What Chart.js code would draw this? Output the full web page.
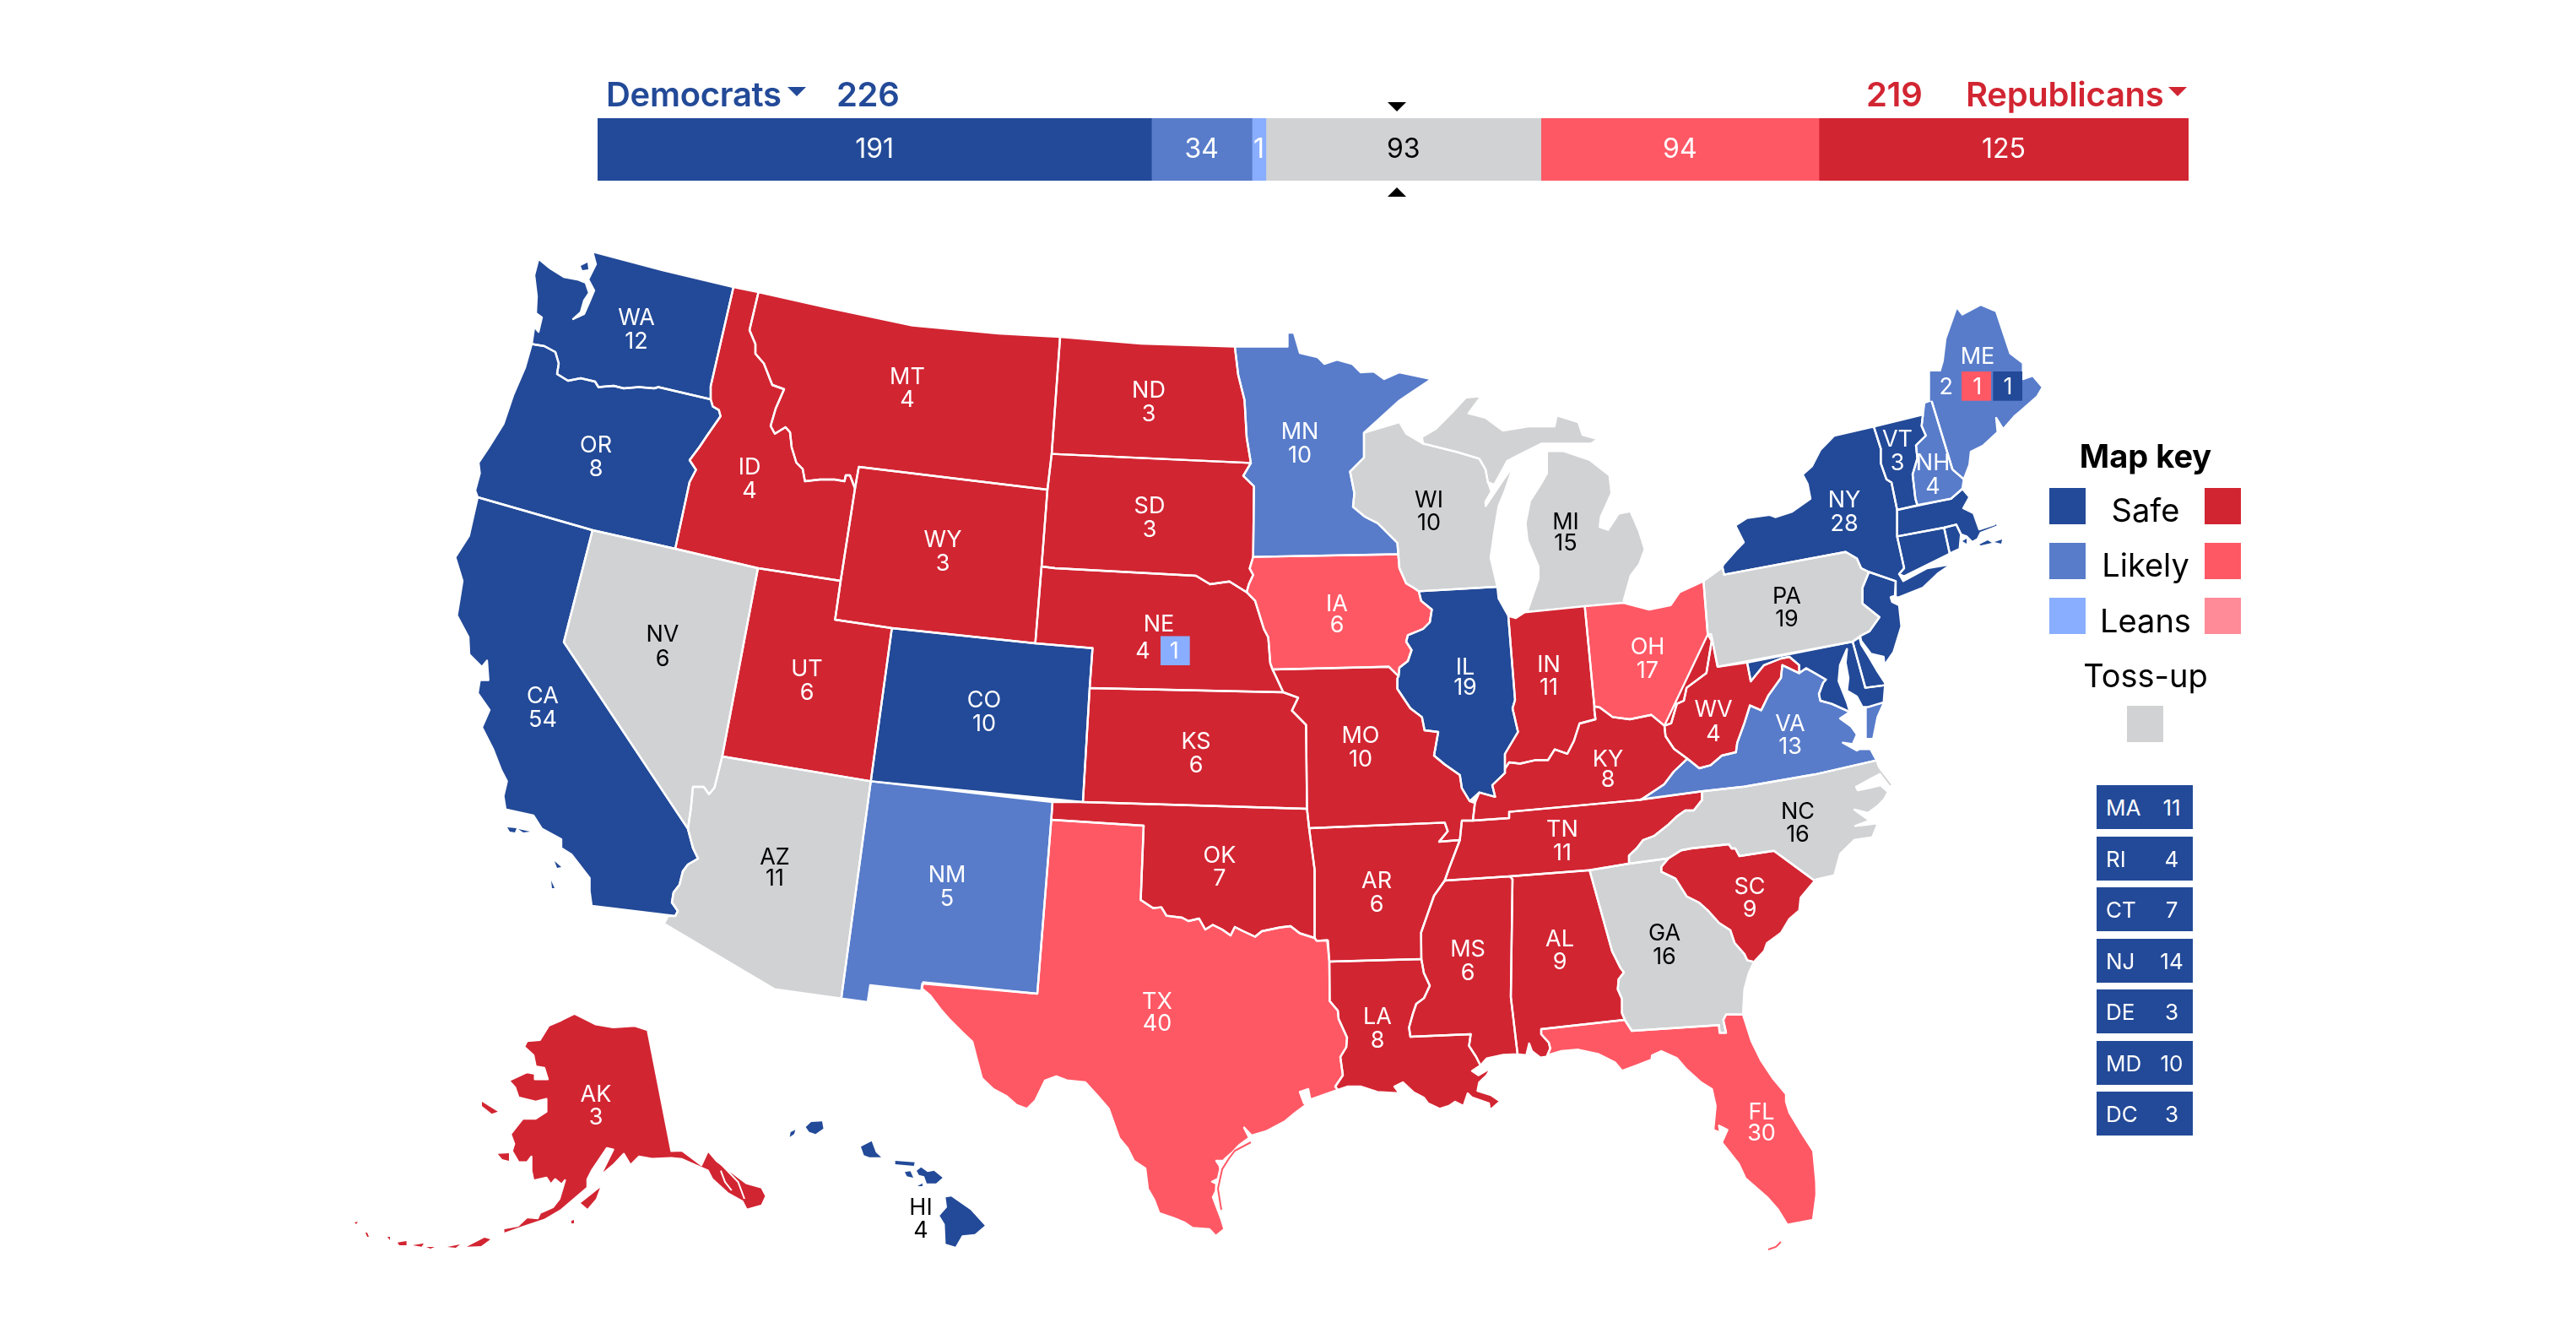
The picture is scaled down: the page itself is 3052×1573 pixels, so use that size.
<!DOCTYPE html>
<html>
<head>
<meta charset="utf-8">
<title>Electoral map</title>
<script src="https://cdn.jsdelivr.net/npm/chart.js@4"></script>
<style>
  html, body { margin: 0; background: #fff; overflow: hidden; }
  body { position: relative; width: 3052px; height: 1573px; font-family: Inter, "Noto Sans", sans-serif; }
  canvas { position: absolute; display: block; }
  .t { position: absolute; white-space: nowrap; line-height: 1; transform: translateY(-50%); }
  .c { transform: translate(-50%, -50%); }
  .hd { font-size: 40px; font-weight: 600; letter-spacing: -0.3px; }
  .dem { color: #234a98; }
  .rep { color: #d22532; }
  .key { font-size: 38px; color: #000; }
  .sw { position: absolute; width: 43px; height: 43px; }
  .tri { position: absolute; width: 0; height: 0; border-left: 11.5px solid transparent; border-right: 11.5px solid transparent; }
  .row { position: absolute; left: 2484px; width: 114px; height: 52px; background: #234a98; color: #fff; font-size: 26px; }
  .row span { position: absolute; top: 50%; transform: translateY(-50%); }
</style>
</head>
<body>
<canvas id="map" width="3052" height="1573" style="left:0;top:0"></canvas>
<canvas id="bar" width="1885" height="74" style="left:708px;top:140px"></canvas>
<div id="overlay"></div>
<script>
// Ratings colours
const SAFE_D = '#234a98', LIKELY_D = '#587cca', LEANS_D = '#8aaeff';
const TOSS = '#d1d2d4';
const LEANS_R = '#ff8b98', LIKELY_R = '#ff5865', SAFE_R = '#d22532';

// Top bar
const barRatings = ['Safe D', 'Likely D', 'Leans D', 'Toss-up', 'Likely R', 'Safe R'];
const barSeats = [191, 34, 1, 93, 94, 125];
const barColors = [SAFE_D, LIKELY_D, LEANS_D, TOSS, LIKELY_R, SAFE_R];
const barTextColors = ['#fff', '#fff', '#fff', '#000', '#fff', '#fff'];
// the 1-seat sliver is drawn wider so its label fits, the width comes off the big block
const SLIVER_EXTRA = 3.7;

// State table
const stateNames = ['WA','OR','CA','NV','ID','MT','WY','UT','CO','AZ','NM','ND','SD','NE','KS','OK','TX','MN','IA','MO','AR','LA','WI','IL','MS','MI','IN','KY','TN','AL','OH','WV','VA','NC','SC','GA','FL','PA','NY','VT','NH','ME','AK','HI'];
const stateVotes = [12,8,54,6,4,4,3,6,10,11,5,3,3,4,6,7,40,10,6,10,6,8,10,19,6,15,11,8,11,9,17,4,13,16,9,16,30,19,28,3,4,2,3,4];
const stateRatings = {
  WA: SAFE_D, OR: SAFE_D, CA: SAFE_D, CO: SAFE_D, IL: SAFE_D, NY: SAFE_D, VT: SAFE_D, HI: SAFE_D,
  MA: SAFE_D, RI: SAFE_D, CT: SAFE_D, NJ: SAFE_D, DE: SAFE_D, MD: SAFE_D,
  NM: LIKELY_D, MN: LIKELY_D, ME: LIKELY_D, NH: LIKELY_D, VA: LIKELY_D,
  NV: TOSS, AZ: TOSS, WI: TOSS, MI: TOSS, PA: TOSS, NC: TOSS, GA: TOSS,
  TX: LIKELY_R, IA: LIKELY_R, OH: LIKELY_R, FL: LIKELY_R
};

// States too small for a label on the map
const smallStates = ['MA','RI','CT','NJ','DE','MD','DC'];
const smallVotes = [11,4,7,14,3,10,3];

// Label anchors: x, first line y, second line y (reference pixels)
const labelAnchors = {
  WA:[754,377,405], OR:[706,528,556], CA:[643,825,853], NV:[785,752,781], ID:[888,554,582], MT:[1075,447,474],
  WY:[1117,640,668], UT:[956,793,821], CO:[1166,830,858], AZ:[918,1016,1041], NM:[1122,1037,1065], ND:[1361,463,491],
  SD:[1362,600,628], NE:[1373,740,772], KS:[1417,879,907], OK:[1445,1014,1041], TX:[1371,1187,1213], MN:[1540,512,540],
  IA:[1584,716,741], MO:[1612,872,900], AR:[1631,1044,1072], LA:[1632,1205,1233], WI:[1693,593,620], IL:[1736,791,815],
  MS:[1739,1125,1153], MI:[1855,619,644], IN:[1835,788,815], KY:[1905,900,924], TN:[1851,983,1011], AL:[1848,1113,1140],
  OH:[1952,767,795], WV:[2030,841,870], VA:[2121,858,885], NC:[2130,962,989], SC:[2073,1051,1078], GA:[1972,1106,1134],
  FL:[2087,1318,1343], PA:[2117,707,734], NY:[2185,593,621], VT:[2248,521,549], NH:[2290,549,577], ME:[2343,423,459],
  AK:[706,1297,1324], HI:[1091,1431,1458]
};

// Shared borders, flat x,y lists in reference pixels
const COLUMBIA = [630,407.5,645,410,658,417,662,430.5,660,443,673,451,688,448,705,452,709,458.5,727,457,739,460,757,458.5,775,460,780,458.5,842,473];
const SNAKE = [842,473,844.5,481.5,851.6,485.6,853.7,493,837,517,829,529,817,545,824.6,556.5,817,571,800,650];
const ID_MT = [898.6,346,888,391,895,407.5,895,419,905,430.5,915,456,929,461,919,484,913,504.5,918,513.7,930.7,506,936,512,938,530,943.5,548,951,555.5,953.7,570,971.5,568,989,568,1000.6,570,1002,563,1007,563,1013,578.5];
const CA_AZ = [815,981.6,821,1004.5,827,1017,815,1024,809,1032,805,1048,798,1057,796,1069,803,1079,800,1085];
const NV_AZ = [855.7,896,846.5,933,840,940.7,833.8,932,821,932,818.5,958,815,981.6];
const RED_RIVER = [1351.5,1066,1366,1075.6,1376,1074.6,1382,1084.6,1400.7,1087,1408,1091,1420.6,1088,1428,1101,1437,1095.5,1448,1101,1458,1108,1463,1098,1473,1103,1487,1109.5,1495,1103,1516.7,1098.5,1529,1097,1540,1105.5,1557.5,1111];
const TX_LA = [1575,1139,1575.4,1185.7,1585,1197,1586,1207,1596,1229,1595,1240.5,1588,1252,1591,1273.6,1582,1287,1585,1291];
const RIV_TN = [1745,972,1732,972,1729.6,995,1722,1015,1717,1028,1711.7,1043];
const RIV_AR = [1711.7,1043,1699,1061,1690,1086.6,1683.7,1104.5,1684,1136];
const RIV_LA = [1684,1136,1687,1152.6,1694,1167.5,1687,1182.4,1678,1189,1674,1200.6,1669.4,1217,1671,1228,1742.5,1225,1740.5,1238.8,1749,1252,1754,1262];
const MISS_IL = [1657,801,1655.6,803.5,1655.6,816,1671,839,1684.7,849.4,1687.8,865,1704,867,1699,895,1711.7,905.5,1729.6,918,1732,933.6,1741.3,949];
const IA_WI = [1656.6,656.5,1658,673,1666,691,1676,697,1681,700.4];
const IA_IL = [1681,700.4,1683.7,711.6,1696.4,722,1694,737,1686,745,1668,752.4,1666,760,1672.4,770,1668,783,1658,790.7,1657,801];
const MN_WI = [1616,512.6,1616,542,1599.5,558.6,1604.6,584,1603,600.4,1617,612,1632.6,620,1655.6,643,1656.6,656.5];
const ND_MN = [1463,410.6,1467,444,1474.5,474,1477,518,1482,548.4];
const SD_MN = [1482,548.4,1473,563.7,1485.7,576,1484.7,659.6];
const SD_IA = [1484.7,659.6,1480.6,673.4,1484.7,681,1479.6,692,1477,701.4];
const NE_IA = [1477,701.4,1487,711.6,1497.4,745,1502.6,755,1505,785.6,1507.7,793];
const NE_MO = [1507.7,793,1512.7,803.5,1520.4,820];
const NE_SD = [1234,671,1250,673,1417,682,1433.7,692,1456.6,688.7,1477,701.4];
const KS_MO = [1520.4,820,1538,826.4,1530.6,841.7,1547.4,858.6,1548.5,958];
const IN_KY = [1889,836.6,1889,841.7,1890.3,852,1871.4,857,1864.8,877.5,1857,892.8,1842,887.7,1834,900.4,1819,900.4,1801,904.5,1788,903,1783,910.6];
const IL_IN = [1787,729.5,1795,829,1792,839,1798.5,867,1783,893,1783,910.6];
const OH_KY = [1889,836.6,1895.4,838,1910.7,849.4,1931,852,1956.6,846.8,1972,859.6];
const OH_WV = [1972,859.6,1980,856.6,1986.7,833.7,1995,830,1998.3,814.6,2021.7,797.3,2028,759,2023.3,751.4];
const KY_WV = [1972,859.6,1973.3,872,1983.3,887,1999.3,898.7];
const KY_VA = [1999.3,898.7,1983,914,1971.7,929,1945,946.7];
const VA_WV = [2111.7,787.8,2110,803,2101.7,814.6,2095,824,2086.7,841.3,2073.3,835.6,2066.7,856.6,2058.3,879.6,2056.7,891,2040,895,2026.7,906.4,2013.3,910,1999.3,898.7];
const POTOMAC = [2191.7,843.3,2170,833.7,2156.7,830,2155,822,2160,808.8,2163.3,805,2150,797.3,2140,791.6,2131.7,797.3];
const MD_WV = [2131.7,797.3,2131.7,787.8,2120,778,2110,780,2090,787.8,2074.3,807,2070,784.7];
const TN_NC = [2016.7,937.3,2016,948,2006.7,960,1996.7,960,1986.7,967,1976.7,976.7,1960,990,1946.7,995,1939,1005,1930,1013.3,1930,1023];
const GA_SC = [1976.7,1016.7,1968.3,1026.7,1968.3,1032.7,1985,1040.7,1998.3,1061.7,2013.3,1069.3,2023.3,1078.3,2036.7,1093.3,2050,1101.7,2055,1116.7,2066.7,1130,2070,1137.3,2078,1139.3];
const AL_GA = [1883.3,1030.7,1910,1126.7,1920,1146.7,1924,1151.7,1917.7,1160,1916.7,1171.7,1921.7,1183.3,1921.7,1200,1925,1208];
const GA_FL = [1925,1208,1933.3,1221,2036.7,1214.3,2037.3,1223.3,2045,1223.3,2041.7,1208.3,2045,1201.7,2065,1201.7];
const AL_FL = [1925,1208,1826,1219,1826,1225,1835,1235,1836.7,1241.7,1833.3,1250];
const SC_NC = [1976.7,1016.7,1991.7,1007.3,2003.3,1005,2048.3,1000,2051.7,1005,2056,1005,2060.7,1014,2101.7,1007.7,2150,1043.3];
const MS_AL = [1789,1038,1792,1041.5,1790,1180.8,1798,1248.8];
const NY_VT = [2220,505.3,2228.3,531.3,2228.3,548.6,2235,567.7,2241,571.5,2247.7,604];
const VT_NH = [2278.3,491,2276.7,504.6,2281.7,516,2270,527.5,2271.7,542.8,2266,562,2269.3,590.7,2271.7,598.3];
const PA_NJ = [2214.3,677.5,2206.7,696,2206.7,715,2226.7,731,2215,747.6,2204,753.3];
const PA_NY = [2042.7,680.6,2186.7,653.8,2200,661.5,2205,673,2214.3,677.5];
const NH_ME = [2288.3,474,2313.3,556.2,2326.7,567.7];
const NC_VA = [2223.3,900.7,2150,917.3,2066.7,931.7,2016.7,937.3];

function rev(a) {
  const out = [];
  for (let i = a.length - 2; i >= 0; i -= 2) out.push(a[i], a[i + 1]);
  return out;
}

// Each state is a list of rings, mainland first
const stateShapes = {
  WA: [[702,298,785,320,869,340,842,457.5,...rev(COLUMBIA),633,387,638,393,642,376,635,371,636,351,633,326,638,306.5,652,318,668,328,684,331,694,335,698,347,692,356,688,370,679,378,692,372,699,356,704,344,697,331,706,313],
       [688,315,696,311,697,319,690,320]],
  OR: [[...COLUMBIA,...SNAKE,702,628,566,589,563,581,568.5,560.6,567,548,579,530,596.5,502,608,468,622,435.6]],
  CA: [[566,589,702,628,668,760.6,...CA_AZ,701,1073,698.6,1055.5,698.6,1040,677,1012,665,1004.5,665,994,642,981.6,632,966,599,958.6,596.5,943,600.6,925.4,594,912.6,584,887,571,861.6,580,841,566,821,568.5,805.5,578.7,805.5,577,782.5,571,790,556,775,555,754.5,541.4,729,548,688,539.4,660,555.7,634.6,562,606.5],
       [601,980,612,981,610,986,604,985],[614,982,628,985,620,986],[657,1020,665,1027,660,1028],[653,1043,657,1052,654,1052]],
  NV: [[702,628,800,650,898,673,...NV_AZ,668,760.6]],
  ID: [[869,340,...ID_MT,996,688,898,673,...rev(SNAKE),842,457.5]],
  MT: [[898.6,346,979,364,1081,385.6,1183,395,1256,399,1246,537.6,1241,580,1017.5,553,...rev(ID_MT)]],
  WY: [[1017.5,553,1241,580,1234,671,1226.6,762,1056.7,744,989.4,734,996,688,1013,578.5]],
  UT: [[898,673,996,688,989.4,734,1056.7,744,1031.7,925.4,855.7,896]],
  CO: [[1056.7,744,1226.6,762,1294.4,767.8,1291,815,1283,950,1031.7,925.4]],
  AZ: [[855.7,896,1031.7,925.4,996.7,1182.7,918,1171.7,786.7,1094,791.7,1085,...rev(CA_AZ),...rev(NV_AZ)]],
  NM: [[1031.7,925.4,1247,950,1245.5,971,1229,1177,1092.7,1165,1091.7,1171.7,1093.3,1174,1031,1167,1028,1187,996.7,1182.7]],
  ND: [[1256,399,1352,407,...ND_MN,1246,537.6]],
  SD: [[1246,537.6,...SD_MN,...SD_IA,...rev(NE_SD),1241,580]],
  NE: [[...NE_SD,...NE_IA,...NE_MO,1291,815,1294.4,767.8,1226.6,762]],
  KS: [[1291,815,...KS_MO,1283,950]],
  OK: [[1247,950,1283,950,1548.5,958,1551,981,1557.6,1030.5,...rev(RED_RIVER),1355,978,1245.5,971]],
  TX: [[1245.5,971,1355,978,...RED_RIVER,1560,1114.4,1572.4,1113.8,1573.4,1114,...TX_LA,1552.5,1302.5,1550,1290,1540,1293.5,1545,1306.8,1547.5,1308.5,1535,1317.7,1522.6,1328,1500,1340,1483,1345,1474,1335.6,1480,1347.6,1468,1356.5,1459,1366,1451,1373,1449,1375,1441,1375,1445,1381,1445.5,1385,1443,1396,1436,1399.7,1441,1402,1440.5,1411,1437,1418,1447,1444.4,1450.5,1456,1440.5,1464,1433,1456,1413,1454.4,1403,1447.8,1391,1442.8,1373.4,1437,1367.4,1421,1360,1408,1357,1384,1343.5,1375,1336,1360,1326,1348,1313.7,1313.4,1301,1298.5,1286,1282,1264,1279.6,1251.5,1275,1238,1280,1226.6,1303.5,1216.7,1313.4,1204,1308.5,1192,1298,1177,1290,1163.4,1277,1158.5,1258.7,1152,1233.8,1139.6,1222,1124.6,1207,1114.7,1195.7,1102,1179,1092.3,1170.8,1093.8,1163.5,1229,1177]],
  MN: [[1463,410.6,1525.5,410.6,1525.5,393.8,1533,394,1540,418,1561,423,1569,431,1584,426,1602,431,1612,441,1627.6,440,1640,449,1658,441,1696,449,1673.5,464,1658,474.4,1617,511.6,...MN_WI,...rev(SD_MN),...rev(ND_MN)]],
  IA: [[1484.7,659.6,...IA_WI,...IA_IL,1645.4,789.7,1507.7,793,...rev(NE_IA),...rev(SD_IA)]],
  MO: [[1507.7,793,1645.4,789.7,...MISS_IL,1747.4,951.4,...RIV_TN.slice(0,6),1705,997,1715.3,984.6,1711.7,974.4,1551,981,1548.5,958,...rev(KS_MO),...rev(NE_MO)]],
  AR: [[1551,981,1711.7,974.4,1715.3,984.6,1705,997,...RIV_TN.slice(4),...RIV_AR,1575,1139,1572.4,1113.8,1560,1114.4,1557.5,1111,1557.6,1030.5]],
  LA: [[1575,1139,...RIV_LA,1744,1268.6,1751.5,1273.6,1766.4,1265,1761.4,1273.6,1752.5,1282,1750.5,1292,1766.4,1297,1777.4,1304.5,1765.4,1315,1764,1306.8,1744,1300,1739,1295,1734,1310,1724,1305,1716.7,1310,1705.7,1313.4,1691.8,1306.8,1686.8,1300,1674.4,1293.5,1662,1282,1652,1287,1658,1295,1632,1293.5,1612,1287,1597,1287,...rev(TX_LA)]],
  MS: [[...RIV_AR,...RIV_LA,1761.4,1253.7,1781,1249.4,...rev(MS_AL)]],
  TN: [[1745,972,1788,969,1788,961.6,1944,947.4,2016.7,937.3,...TN_NC,1883.3,1030.7,1789,1038,...rev(RIV_TN)]],
  AL: [[1789,1038,1883.3,1030.7,...AL_GA,...AL_FL,1831.7,1251.7,1825,1252.7,1815,1245,1811.7,1236,1808.3,1250,1798,1248.8,...rev(MS_AL)]],
  GA: [[1883.3,1030.7,1930,1023,...GA_SC,2071.7,1153.3,2066.7,1171.7,2065,1201.7,...rev(GA_FL),...rev(AL_GA)]],
  FL: [[...GA_FL,2075,1233,2086.7,1256.7,2100,1276.7,2116.7,1296.7,2116,1305,2120,1318,2133.3,1340,2148.3,1363.3,2151.7,1400,2152,1415,2148,1445,2117.6,1450.6,2106,1432,2094.6,1419,2068,1395.7,2060,1378.5,2040,1353.3,2046.7,1338.3,2036.7,1333.3,2038,1341.7,2030,1338.3,2032.7,1310,2028.3,1290,2015,1281.7,1998.3,1266.7,1986.7,1253.3,1968.3,1245,1957.3,1250,1956.7,1255,1940,1261.7,1921.7,1268.3,1913.3,1258.3,1893.3,1248.3,1870,1243.3,1850,1245,...rev(AL_FL)]],
  SC: [[...SC_NC,2133.3,1063.3,2131.7,1078.3,2120,1088.3,2110,1105,2093.3,1117.3,2090,1126.7,2078,1139.3,...rev(GA_SC)]],
  NC: [[2223.3,900.7,2229,916,2219,921,2199,932,2201,936,2216,933,2228,930,2237,938,2232,947,2224,955,2213,963,2197,959,2215,972,2198,978.3,2211.7,976.7,2225,975,2218.3,991.7,2196.7,995,2180,1011.7,2173.3,1036.7,2151.7,1041.7,...rev(SC_NC),1930,1023,...rev(TN_NC),...rev(NC_VA)]],
  VA: [[2223.3,900.7,2216,887.3,2203.3,887.3,2200,889,2183.3,879.6,2195,881.5,2200,870,2193.3,860.5,2180,851,...POTOMAC,...VA_WV,...KY_VA,...rev(NC_VA)],
       [2230,833.7,2211.7,837.5,2211.7,873.9,2218.3,873.9,2223.3,849]],
  WV: [[2023.3,751.4,2027.3,751.4,2035,789.7,...rev(MD_WV),...VA_WV,...rev(KY_WV),...rev(OH_WV)]],
  OH: [[1877.6,718,1923.5,714,1954,722,1979.6,716.7,1990,701.4,2018.3,688.3,2023.3,751.4,...rev(OH_WV),...rev(OH_KY)]],
  IN: [[1787,729.5,1796,732,1806,725.4,1877.6,718,1889,836.6,...IN_KY,...rev(IL_IN)]],
  IL: [[1681,700.4,1774,695,1775.5,709,1787,729.5,...IL_IN,1783,915.7,1768,930,1771.4,943.8,1752.6,938.7,...rev(MISS_IL),...rev(IA_IL)]],
  KY: [[1747.4,951.4,1752.6,938.7,1771.4,943.8,1768,930,1783,915.7,...rev(IN_KY),...OH_KY,...KY_WV,...KY_VA,1944,947.4,1788,961.6,1788,969,1745,972]],
  WI: [[1616,512.6,1658,500,1666,513.7,1686,525.4,1727,535.6,1752.6,543.3,1760,556,1762.8,571,1767,582,1760,594,1760.2,599.4,1780.6,569,1793.4,551,1783,581.5,1775.5,599.4,1770.4,630,1766,660.6,1774,695,1681,700.4,...rev(IA_WI),...rev(MN_WI)]],
  MI: [[1684.7,517.7,1701.5,507.6,1719.4,489.7,1737,470.8,1755,469.3,1739.8,489.7,1760,494.8,1780.6,510,1811,505,1841.8,505,1844.4,492,1870,500,1875,515,1893,520,1885,525.4,1826.6,525.4,1801,538,1785.7,546,1770.4,574,1762.8,571,1760,556,1752.6,543.3,1727,535.6,1686,525.4],
       [1834,535.6,1852,535.6,1882.7,545.8,1905.7,563.7,1908,584,1895.4,612,1894,625,1905.7,629,1918.4,609.6,1931,607,1941,630,1947.4,650.4,1941,668,1931,681,1922.4,711.6,1923.5,714,1877.6,718,1811,723.4,1824,686,1824,670.8,1811,640,1808.7,620,1813.8,594,1826.6,574,1834,561]],
  PA: [[2018.3,688.3,2040.7,672,...PA_NY,...PA_NJ,2195,760,2035,789.7,2027.3,751.4,2023.3,751.4]],
  NY: [[2041.7,669,2056.7,652,2066,642.3,2056,622.4,2070,613.6,2096.7,609.8,2103.3,612.5,2123.3,606,2145,590.7,2141.7,573.4,2135.7,562,2146.7,552.4,2156.7,533,2173.3,516,...NY_VT,2247.7,635.4,2256,673,2250,680,2255,688.3,2283.3,673,2311.7,668.4,2296.7,678.7,2278.3,696,2250,707.4,2246,707.4,2246,688.3,...rev(PA_NY),2040.7,672]],
  NJ: [[2214.3,677.5,2246,688.3,2245,705.5,2240,707.4,2241.7,713,2250,717,2252.7,741.8,2243.3,772.5,2232.7,787.8,2231.7,778,2216.7,774.4,2205,759,...rev(PA_NJ)]],
  VT: [[2220,505.3,2278.3,491,...VT_NH,2247.7,604,...rev(NY_VT)]],
  NH: [[2278.3,491,2280,477,2288.3,474,...NH_ME,2325,579,2311.7,590.7,...rev(VT_NH)]],
  ME: [[2288.3,474,2301.7,428,2305,401,2318.3,363.7,2325,372.5,2346.7,361,2365,368.7,2381.7,418.5,2396.7,430,2396.7,449,2408.3,445,2420,458.6,2413.3,470,2393.3,487.3,2386.7,493,2373.3,508.4,2365,495,2366.7,512,2350,527.5,2335,535,2333.3,550.5,2326.7,567.7,2313.3,556.2]],
  MA: [[2247.7,604,2311.7,590.7,2325,579,2333.3,588.8,2326,602,2338.3,608,2345,627,2363.3,621,2360,611,2367.3,623,2346.7,631,2343,638.5,2336.7,642,2330,635.4,2323.3,632.8,2317.7,621.3,2303.3,625,2247.7,635.4],
       [2345,645,2355,640,2360,643,2347,646],[2363,642,2372,639,2371,644]],
  CT: [[2247.7,635.4,2303.3,625,2310,655.7,2256,682.5,2250,680,2256,673]],
  RI: [[2303.3,625,2317.7,621.3,2323.3,632.8,2321.7,650,2310,655.7],[2325,641,2330,638,2330,644]],
  DE: [[2195,760,2203,755,2205,763,2213.3,776.3,2223.3,793.5,2233.3,808.8,2233.3,811.6,2210,814.6]],
  MD: [[2070,784.7,2195,760,2210,814.6,2233.3,811.6,2231.7,831.8,2213.3,837.5,2206.7,837.5,2200,825,2188.3,818,2190,803,2186.7,785,2188.3,768.6,2180,787.7,2178.3,806.9,2188.3,831.8,...POTOMAC,...MD_WV]],
  AK: [[767.3,1220,795.4,1363.3,808,1362.7,831,1380,838.8,1363,849,1375,884.7,1401.7,902.5,1406.7,907.7,1416.7,902.5,1428,884.7,1433,879.6,1423,861.7,1413,843.9,1396.7,838.8,1386.7,808,1373,795.4,1371.7,772.4,1372.7,757,1370,747,1380,739,1366.7,726.5,1380,711,1393,726.5,1361.7,719,1360,701,1386.7,696,1396.7,696,1406.7,665.3,1433,645,1445,619.4,1453.3,596.4,1461.7,596.4,1455,614,1451.7,624.5,1441.7,637,1443,639.8,1436.7,655,1430,662.8,1420,669.4,1398,665.3,1403,657.7,1396.7,652.6,1403,647.4,1395,632,1398.3,629.6,1386.7,629.6,1370,624.5,1376.7,614.3,1376.7,606.6,1363.3,609.2,1355,605,1343.3,619.4,1325,634.7,1325,647.4,1316.7,647.4,1301.7,634.7,1305,614.3,1300,610.2,1288,603,1280,624.5,1270,633.7,1271.7,633.7,1278.3,649,1278.3,644.9,1265,634.7,1263.3,632,1250,621,1240,624.5,1233,639.8,1231.7,650,1215,665.3,1208.3,680.6,1200.7,706,1213.3,726.5,1216.7,752,1215],
       [688,1425,711,1406.7,706,1420,696,1431.7],[589.8,1366.7,603,1366,603,1375,595,1373],[571,1305,589.8,1316.7,582.7,1319.3,571,1310],
       [553,1476.7,574,1466,581,1468,570,1476],[471,1471.7,481.6,1470,481.6,1475,473,1475],[489,1475,502,1472.7,499.5,1476.7],[677,1446,680,1445,680,1449,677,1449],
       [420,1448,424,1447,422,1450],[433,1460,435,1460,437,1465,435,1465],[459,1465,462,1465,462,1469],[505,1477,515,1477,510,1479],[530,1477,545,1474,540,1478]],
  HI: [[935.7,1346.7,936.7,1341,942.3,1338.3,940.8,1343.3],[954.6,1335,961,1329,974,1328.3,975.5,1336.7,966.3,1343.3,958.7,1340.7],
       [1020,1358.3,1032.7,1351.7,1037.7,1365,1044,1370.7,1030,1370.7,1023.5,1368.3],[1060.7,1375,1083.7,1376.7,1082.7,1381,1060.7,1379],
       [1072,1388.3,1078.6,1387.3,1082,1395,1074.5,1393.3],[1087,1405,1092.9,1401.7,1092.9,1405],
       [1086,1386.7,1091.3,1382.7,1099,1388.3,1106.6,1386.7,1116.8,1395,1109,1401.7,1098,1401.7,1095,1393.3,1088.8,1391.7],
       [1120.4,1418.3,1127,1417.3,1150,1433.3,1166.8,1451.7,1155,1461.7,1139.8,1463.3,1132,1476.7,1120.4,1473.3,1119.4,1450,1113.3,1440,1122,1430]]
};

// Thin pieces drawn as open lines: Texas barrier island, NC outer banks, Florida keys, Alaska fjords
const thinLines = [
  { color: LIKELY_R, pts: [1482,1353,1463,1363,1455.5,1373,1448,1385,1443,1408,1447,1433] },
  { color: TOSS, pts: [2220,904,2230,917,2240,930] },
  { color: LIKELY_R, pts: [2095,1480,2104,1477,2110,1471] },
  { color: '#fff', pts: [843.9,1368,874.5,1400,882,1420] },
  { color: '#fff', pts: [854,1386.7,859,1400,866.8,1410] }
];

function toPoints(flat) {
  const pts = [];
  for (let i = 0; i < flat.length; i += 2) pts.push({ x: flat[i], y: flat[i + 1] });
  return pts;
}

const ringLine = { showLine: true, tension: 0, pointRadius: 0 };
const mapDatasets = [];
Object.keys(stateShapes).forEach(abbr => {
  stateShapes[abbr].forEach((ring, r) => {
    const pts = toPoints(ring);
    pts.push(pts[0]);
    // fills go first so no state paints over a neighbour's border
    mapDatasets.push({ ...ringLine, label: abbr, data: pts, fill: 'shape', order: 2,
      backgroundColor: stateRatings[abbr] || SAFE_R, borderColor: 'transparent', borderWidth: 0 });
    // islands keep no outline, it would eat them
    if (r === 0 && abbr !== 'HI') {
      mapDatasets.push({ ...ringLine, label: abbr, data: pts, fill: false, order: 1,
        borderColor: '#fff', borderWidth: 2.4, borderJoinStyle: 'round' });
    }
  });
});
thinLines.forEach(l => mapDatasets.push({
  ...ringLine, data: toPoints(l.pts), fill: false, order: 0, borderColor: l.color, borderWidth: 2
}));

// State names, votes and the split-vote boxes in NE and ME
const stateLabels = {
  id: 'stateLabels',
  afterDatasetsDraw(chart) {
    const { ctx, scales: { x, y } } = chart;
    ctx.save();
    ctx.textAlign = 'center';
    ctx.textBaseline = 'middle';

    const box = (x0, y0, x1, y1, color) => {
      ctx.fillStyle = color;
      ctx.fillRect(x.getPixelForValue(x0), y.getPixelForValue(y0), x1 - x0, y1 - y0);
    };
    box(1375, 753.5, 1409.7, 788, LEANS_D);
    box(2286.7, 440, 2321.7, 474.7, LIKELY_D);
    box(2324, 440, 2359, 474.7, LIKELY_R);
    box(2361.3, 440, 2396, 474.7, SAFE_D);

    const put = (txt, px, py, color) => {
      ctx.fillStyle = color;
      ctx.fillText(txt, x.getPixelForValue(px), y.getPixelForValue(py));
    };
    ctx.font = '27px Inter';
    stateNames.forEach((abbr, i) => {
      const a = labelAnchors[abbr];
      const color = stateRatings[abbr] === TOSS || abbr === 'HI' ? '#000' : '#fff';
      put(abbr, a[0], a[1], color);
      if (abbr === 'NE') put(String(stateVotes[i]), 1354, a[2], color);
      else if (abbr === 'ME') put(String(stateVotes[i]), 2305.7, a[2], color);
      else put(String(stateVotes[i]), a[0], a[2], color);
    });
    put('1', 1391.3, 772, '#fff');
    put('1', 2342.7, 459, '#fff');
    put('1', 2379, 459, '#fff');
    ctx.restore();
  }
};

new Chart(document.getElementById('map'), {
  type: 'scatter',
  data: { datasets: mapDatasets },
  options: {
    responsive: false,
    animation: false,
    layout: { padding: 0 },
    plugins: { legend: { display: false }, tooltip: { enabled: false } },
    scales: {
      x: { type: 'linear', min: 0, max: 3052, display: false },
      y: { type: 'linear', min: 0, max: 1573, reverse: true, display: false }
    }
  },
  plugins: [stateLabels]
});

// Top seat bar
const barLengths = barSeats.map(s => s);
barLengths[0] -= SLIVER_EXTRA;
barLengths[2] += SLIVER_EXTRA;

const barLabels = {
  id: 'barLabels',
  afterDatasetsDraw(chart) {
    const { ctx } = chart;
    ctx.save();
    ctx.font = '32px Inter';
    ctx.textAlign = 'center';
    ctx.textBaseline = 'middle';
    chart.data.datasets.forEach((ds, i) => {
      const el = chart.getDatasetMeta(i).data[0];
      ctx.fillStyle = barTextColors[i];
      ctx.fillText(String(barSeats[i]), (el.base + el.x) / 2, el.y + 0.5);
    });
    ctx.restore();
  }
};

new Chart(document.getElementById('bar'), {
  type: 'bar',
  data: {
    labels: ['Seats'],
    datasets: barRatings.map((name, i) => ({
      label: name,
      data: [barLengths[i]],
      backgroundColor: barColors[i],
      barPercentage: 1,
      categoryPercentage: 1
    }))
  },
  options: {
    indexAxis: 'y',
    responsive: false,
    animation: false,
    layout: { padding: 0 },
    plugins: { legend: { display: false }, tooltip: { enabled: false } },
    scales: {
      x: { stacked: true, min: 0, max: 538, display: false },
      y: { stacked: true, display: false }
    }
  },
  plugins: [barLabels]
});

// Header, key and small state list
const overlay = document.getElementById('overlay');
function addText(txt, cls, style) {
  const d = document.createElement('div');
  d.className = 't ' + cls;
  d.textContent = txt;
  d.style.cssText = style;
  overlay.appendChild(d);
}
function addSwatch(x, y, color) {
  const d = document.createElement('div');
  d.className = 'sw';
  d.style.cssText = `left:${x}px;top:${y}px;background:${color}`;
  overlay.appendChild(d);
}
function addTriangle(x, y, color, up) {
  const d = document.createElement('div');
  d.className = 'tri';
  d.style.cssText = `left:${x}px;top:${y}px;` + (up ? `border-bottom:11.5px solid ${color}` : `border-top:11.5px solid ${color}`);
  overlay.appendChild(d);
}

addText('Democrats', 'hd dem', 'left:718px;top:112px');
addTriangle(933, 103, SAFE_D);
addText('226', 'hd dem', 'left:991px;top:112px');
addText('219', 'hd rep', 'left:2211px;top:112px');
addText('Republicans', 'hd rep', 'left:2329px;top:112px');
addTriangle(2569, 103, SAFE_R);
addTriangle(1644, 121, '#000');
addTriangle(1644, 222, '#000', true);

addText('Map key', 'key c', 'left:2542px;top:540px;font-weight:700');
[['Safe', 604, SAFE_D, SAFE_R, 577.5], ['Likely', 669, LIKELY_D, LIKELY_R, 642.5], ['Leans', 735, LEANS_D, LEANS_R, 708]].forEach(r => {
  addText(r[0], 'key c', `left:2542px;top:${r[1]}px`);
  addSwatch(2428, r[4], r[2]);
  addSwatch(2611.5, r[4], r[3]);
});
addText('Toss-up', 'key c', 'left:2542px;top:800px');
addSwatch(2519.5, 836, TOSS);

const rowTops = [930, 990.5, 1051, 1111.5, 1172, 1232.5, 1293];
smallStates.forEach((abbr, i) => {
  const row = document.createElement('div');
  row.className = 'row';
  row.style.top = rowTops[i] + 'px';
  row.innerHTML = `<span style="left:11px">${abbr}</span><span style="left:89px;transform:translate(-50%,-50%)">${smallVotes[i]}</span>`;
  overlay.appendChild(row);
});
</script>
</body>
</html>
